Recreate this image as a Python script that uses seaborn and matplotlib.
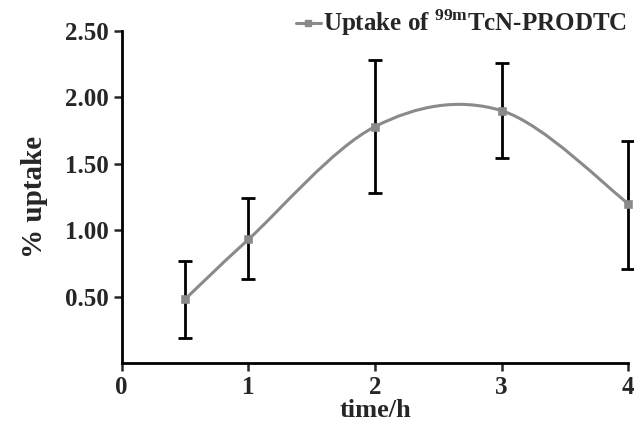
import numpy as np
import matplotlib
matplotlib.use("Agg")
import matplotlib.pyplot as plt
import seaborn as sns
from matplotlib.path import Path
from matplotlib.patches import PathPatch
from matplotlib.lines import Line2D

# data
time_h = [0.5, 1, 2, 3, 4]
uptake = [0.48, 0.93, 1.78, 1.90, 1.20]
err_lo = [0.29, 0.30, 0.50, 0.36, 0.49]
err_hi = [0.29, 0.31, 0.50, 0.36, 0.47]
x_ticks = [0, 1, 2, 3, 4]
y_ticks = [0.5, 1.0, 1.5, 2.0, 2.5]
y_labels = ["0.50", "1.00", "1.50", "2.00", "2.50"]
series_name = r"Uptake of $^{\mathbf{99m}}$TcN-PRODTC"

sns.set_style("ticks")
plt.rcParams["font.family"] = ["Liberation Serif", "DejaVu Serif"]
plt.rcParams["font.weight"] = "bold"
plt.rcParams["mathtext.fontset"] = "custom"
plt.rcParams["mathtext.rm"] = "Liberation Serif:bold"
plt.rcParams["mathtext.bf"] = "Liberation Serif:bold"

line_col = "#8a8a8a"

fig = plt.figure(figsize=(6.34, 4.25), dpi=100)
ax = fig.add_axes([0.192, 0.146, 0.799, 0.781])

# smoothed line (Excel-style bezier through the points)
pts = np.column_stack([time_h, uptake])
ext = np.vstack([pts[0], pts, pts[-1]])
verts = [tuple(pts[0])]
codes = [Path.MOVETO]
for i in range(1, len(ext) - 2):
    p0, p1, p2, p3 = ext[i - 1], ext[i], ext[i + 1], ext[i + 2]
    c1 = p1 + (p2 - p0) / 6
    c2 = p2 - (p3 - p1) / 6
    verts += [tuple(c1), tuple(c2), tuple(p2)]
    codes += [Path.CURVE4] * 3
ax.add_patch(PathPatch(Path(verts, codes), facecolor="none",
                       edgecolor=line_col, lw=2.2, zorder=2))

# error bars
eb = ax.errorbar(time_h, uptake, yerr=[err_lo, err_hi], fmt="none",
                 ecolor="black", elinewidth=2, capsize=5, capthick=2, zorder=3)
for art in eb.lines[1] + eb.lines[2]:
    art.set_clip_on(False)

# markers
sns.scatterplot(x=time_h, y=uptake, marker="s", s=30, color=line_col,
                edgecolor=line_col, ax=ax, zorder=4, clip_on=False)

ax.set_xlim(0, 4)
ax.set_ylim(0, 2.5)
ax.set_xticks(x_ticks)
ax.set_yticks(y_ticks)
ax.set_yticklabels(y_labels)
ax.tick_params(labelsize=18, width=1.8, length=6)
for lab in ax.get_xticklabels() + ax.get_yticklabels():
    lab.set_fontweight("bold")

for s in ["top", "right"]:
    ax.spines[s].set_visible(False)
for s in ["left", "bottom"]:
    ax.spines[s].set_linewidth(2)
    ax.spines[s].set_color("black")

ax.set_xlabel("time/h", fontsize=19, fontweight="bold", labelpad=0)
ax.set_ylabel("% uptake", fontsize=21, fontweight="bold", labelpad=12)

handle = Line2D([], [], color=line_col, lw=2.2, marker="s", markersize=5)
fig.legend([handle], [series_name], loc="upper right",
           bbox_to_anchor=(1.025, 1.035), frameon=False,
           prop={"size": 18, "weight": "bold"},
           handlelength=1.0, handletextpad=0.1)

fig.savefig("out.png", dpi=100)
